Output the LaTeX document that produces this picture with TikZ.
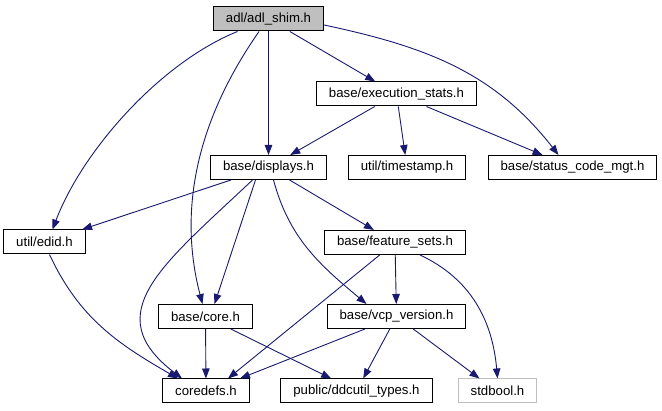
\documentclass[tikz,border=0pt]{standalone}
\usepackage{fontspec}
\setmainfont{Liberation Sans}
\usepackage{tikz}
\usetikzlibrary{arrows.meta}
\usepackage{xcolor}
\definecolor{incnavy}{RGB}{25,25,112}
\definecolor{incgrey}{RGB}{191,191,191}
\tikzset{
  filenode/.style={rectangle,draw=black,line width=1pt,minimum height=24pt,inner xsep=12.5pt,inner ysep=0pt,fill=white,text=black},
  rootnode/.style={filenode,fill=incgrey},
  sysnode/.style={filenode,draw=incgrey},
  incarrow/.style={-{Triangle[length=10pt,width=7.5pt]},line width=0.9pt,draw=incnavy}
}

\begin{document}
\begin{tikzpicture}[x=1pt,y=1pt,font=\fontsize{13.2}{15}\selectfont]
  \useasboundingbox (0,0) rectangle (662,-411);
  \node[rootnode] (shim) at (268.5,-19) {adl/adl\_shim.h};
  \node[filenode] (exec) at (396.5,-94) {base/execution\_stats.h};
  \node[filenode] (displays) at (268.5,-167.5) {base/displays.h};
  \node[filenode] (stamp) at (407,-167.5) {util/timestamp.h};
  \node[filenode] (status) at (572.5,-167.5) {base/status\_code\_mgt.h};
  \node[filenode] (edid) at (44.5,-242) {util/edid.h};
  \node[filenode] (feat) at (395,-242.5) {base/feature\_sets.h};
  \node[filenode] (core) at (205.5,-316.5) {base/core.h};
  \node[filenode] (vcp) at (396.5,-316.5) {base/vcp\_version.h};
  \node[filenode] (coredefs) at (206,-391) {coredefs.h};
  \node[filenode] (ddc) at (356.5,-391) {public/ddcutil\_types.h};
  \node[sysnode] (stdbool) at (497.5,-391) {stdbool.h};
  % adl_shim.h
  \draw[incarrow] ([xshift=-31pt]shim.south) .. controls +(-77pt,-31pt) and +(30pt,79pt) .. ([xshift=8pt]edid.north);
  \draw[incarrow] ([xshift=-9.5pt]shim.south) .. controls +(-69pt,-99pt) and +(-22pt,84pt) .. ([xshift=-3pt]core.north);
  \draw[incarrow] (shim) -- (displays);
  \draw[incarrow] (shim) -- (exec);
  \draw[incarrow] ([yshift=-6pt]shim.east) to[out=-12,in=128] ([xshift=-14pt]status.north);
  % execution_stats.h
  \draw[incarrow] (exec) -- (displays);
  \draw[incarrow] (exec) -- (stamp);
  \draw[incarrow] (exec) -- (status);
  % displays.h
  \draw[incarrow] (displays) -- (edid);
  \draw[incarrow] ([xshift=-16pt]displays.south) .. controls +(-90pt,-85pt) and +(-85pt,65pt) .. ([xshift=-24pt]coredefs.north);
  \draw[incarrow] ([xshift=-13pt]displays.south) -- ([xshift=9pt]core.north);
  \draw[incarrow] ([xshift=5pt]displays.south) to[out=-75,in=140] ([xshift=-30pt]vcp.north);
  \draw[incarrow] (displays) -- (feat);
  % util/edid.h
  \draw[incarrow] ([xshift=5pt]edid.south) to[out=-65,in=150] ([xshift=-28pt]coredefs.north);
  % feature_sets.h
  \draw[incarrow] (feat) -- (vcp);
  \draw[incarrow] (feat) -- ([xshift=22pt]coredefs.north);
  \draw[incarrow] ([xshift=25pt]feat.south) to[out=-25,in=95] (stdbool.north);
  % core.h
  \draw[incarrow] (core) -- (coredefs);
  \draw[incarrow] (core) -- (ddc);
  % vcp_version.h
  \draw[incarrow] (vcp) -- ([xshift=34pt]coredefs.north);
  \draw[incarrow] (vcp) -- (ddc);
  \draw[incarrow] (vcp) -- ([xshift=-18pt]stdbool.north);
\end{tikzpicture}
\end{document}
